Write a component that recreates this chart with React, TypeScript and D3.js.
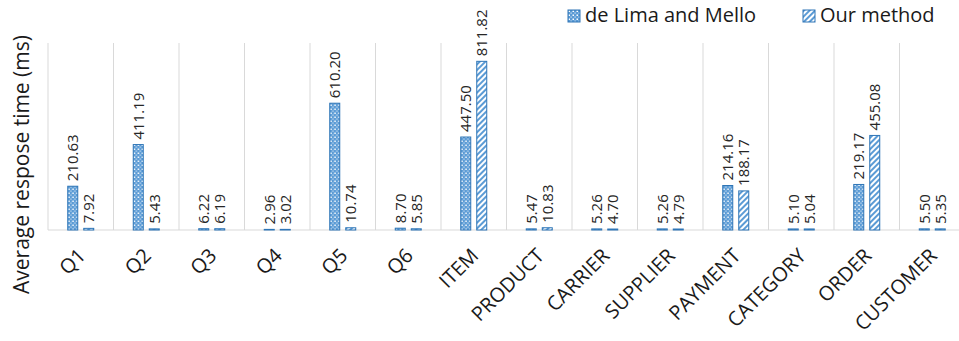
import React from "react";
import * as d3 from "d3";

const categories = [
  "Q1", "Q2", "Q3", "Q4", "Q5", "Q6", "ITEM", "PRODUCT", "CARRIER",
  "SUPPLIER", "PAYMENT", "CATEGORY", "ORDER", "CUSTOMER",
];
const deLimaValues = [
  210.63, 411.19, 6.22, 2.96, 610.2, 8.7, 447.5, 5.47, 5.26, 5.26, 214.16, 5.1, 219.17, 5.5,
];
const ourValues = [
  7.92, 5.43, 6.19, 3.02, 10.74, 5.85, 811.82, 10.83, 4.7, 4.79, 188.17, 5.04, 455.08, 5.35,
];
const seriesNames = ["de Lima and Mello", "Our method"];

const width = 959;
const height = 341;
const margin = { top: 43, left: 48, right: -6, bottom: 111 };
const font = "'Open Sans', sans-serif";
const blue = "#5B9BD5";
const edge = "#2E75B6";

export default function App() {
  const x = d3
    .scaleBand()
    .domain(categories)
    .range([margin.left, width - margin.right]);
  // two bars per category, 10px wide with a 6px gap
  const inner = d3.scaleBand().domain(["a", "b"]).range([0, 26]).paddingInner(0.375);
  const y = d3
    .scaleLinear()
    .domain([0, 900])
    .range([height - margin.bottom, margin.top]);

  const base = y(0);
  const series = [
    { key: "a", values: deLimaValues, fill: "url(#dots)" },
    { key: "b", values: ourValues, fill: "url(#stripes)" },
  ];

  // boundaries between categories
  const bounds = categories.map((c) => x(c) as number);

  return (
    <svg
      width={width}
      height={height}
      style={{ position: "absolute", left: 0, top: 0, background: "#fff" }}
    >
      <defs>
        <pattern id="dots" width="4" height="4" patternUnits="userSpaceOnUse">
          <rect width="4" height="4" fill={blue} />
          <rect x="0.5" y="0.5" width="1.5" height="1.5" fill="#fff" />
          <rect x="2.5" y="2.5" width="1.2" height="1.2" fill="#dbe8f6" />
        </pattern>
        <pattern
          id="stripes"
          width="4"
          height="4"
          patternUnits="userSpaceOnUse"
          patternTransform="rotate(45)"
        >
          <rect width="4" height="4" fill="#fff" />
          <rect width="2" height="4" fill={blue} />
        </pattern>
      </defs>

      {/* gridlines between categories */}
      {bounds.map((b, i) => (
        <line key={i} x1={b} x2={b} y1={margin.top} y2={base} stroke="#d9d9d9" />
      ))}
      <line x1={margin.left} x2={width} y1={base} y2={base} stroke="#d9d9d9" />

      {categories.map((c, i) => {
        const cx = (x(c) as number) + x.bandwidth() / 2 - 13;
        return (
          <g key={c} transform={`translate(${cx},0)`}>
            {series.map((s) => {
              const v = s.values[i];
              const bx = inner(s.key) as number;
              const by = y(v);
              return (
                <g key={s.key}>
                  <rect
                    x={bx}
                    y={by}
                    width={inner.bandwidth()}
                    height={base - by}
                    fill={s.fill}
                    stroke={edge}
                    strokeWidth={1}
                  />
                  <text
                    transform={`translate(${bx + inner.bandwidth() / 2 + 5.5},${by - 5}) rotate(-90)`}
                    fontFamily={font}
                    fontSize={15}
                    fill="#262626"
                  >
                    {v.toFixed(2)}
                  </text>
                </g>
              );
            })}
          </g>
        );
      })}

      {/* category labels */}
      {categories.map((c) => {
        const cx = (x(c) as number) + x.bandwidth() / 2 + 6;
        return (
          <text
            key={c}
            transform={`translate(${cx},${base + 27}) rotate(-45)`}
            textAnchor="end"
            fontFamily={font}
            fontSize={20}
            fill="#1a1a1a"
          >
            {c}
          </text>
        );
      })}

      {/* y axis title */}
      <text
        transform={`translate(29,${(32 + 297) / 2}) rotate(-90)`}
        textAnchor="middle"
        fontFamily={font}
        fontSize={21}
        fill="#1a1a1a"
      >
        Average respose time (ms)
      </text>

      {/* legend */}
      {seriesNames.map((name, i) => {
        const lx = [568, 803][i];
        return (
          <g key={name} transform={`translate(${lx},10)`}>
            <rect
              width={12}
              height={12}
              fill={i === 0 ? "url(#dots)" : "url(#stripes)"}
              stroke={edge}
            />
            <text x={17} y={12} fontFamily={font} fontSize={20} fill="#1a1a1a">
              {name}
            </text>
          </g>
        );
      })}
    </svg>
  );
}
